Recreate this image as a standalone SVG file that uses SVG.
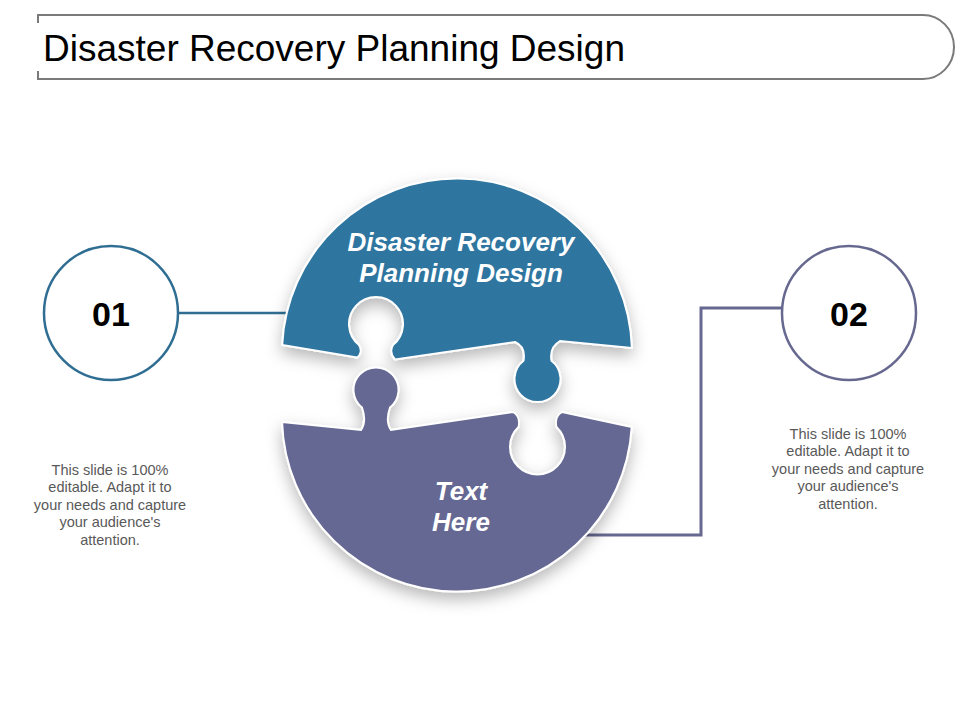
<svg xmlns="http://www.w3.org/2000/svg" width="960" height="720" viewBox="0 0 960 720">
  <defs>
    <filter id="shadow" x="-20%" y="-20%" width="140%" height="150%">
      <feDropShadow dx="0" dy="7" stdDeviation="8" flood-color="#000" flood-opacity="0.28"/>
    </filter>
  </defs>
  <style>
    .frame { fill: none; stroke: #7a7a7a; stroke-width: 2; }
    .title { font-family: "Liberation Sans", Arial, sans-serif; font-size: 37px; fill: #000; }
    .num { font-family: "Liberation Sans", Arial, sans-serif; font-size: 34px; font-weight: bold; fill: #000; text-anchor: middle; }
    .ring1 { fill: #fff; stroke: #2f6e92; stroke-width: 2.5; }
    .ring2 { fill: #fff; stroke: #66688f; stroke-width: 2.5; }
    .piece { stroke: #fff; stroke-width: 2; filter: url(#shadow); }
    .ptext { font-family: "Liberation Sans", Arial, sans-serif; font-size: 26px; font-weight: bold; font-style: italic; fill: #fff; text-anchor: middle; }
    .desc { font-family: "Liberation Sans", Arial, sans-serif; font-size: 14.5px; fill: #595959; text-anchor: middle; }
    .c1 { fill: none; stroke: #2f6e92; stroke-width: 2.5; }
    .c2 { fill: none; stroke: #66688f; stroke-width: 3; }
  </style>

  <rect width="960" height="720" fill="#fff"/>

  <g id="title">
    <path class="frame" d="M38,23 V15 H923 A31,32 0 0 1 923,79 H38 V71"/>
    <text class="title" x="43" y="61">Disaster Recovery Planning Design</text>
  </g>

  <g id="connectors">
    <line class="c1" x1="179" y1="313" x2="300" y2="313"/>
    <polyline class="c2" points="782,308 701,308 701,535 575,535"/>
  </g>

  <g id="piece-top">
    <path class="piece" fill="#2e74a0" d="M282.2,345 A175,175 0 0 1 631.9,348 L560,341 C553,345 550,352 551.5,360.8 A23,23 0 1 1 523.5,360.8 C525,352 522,345 515,342 L395,359.5 C391,355 390,350 393,345 A27,27 0 1 0 359,345 C362,350 361,355 357,357.5 Z"/>
    <text class="ptext" x="461" y="251">Disaster Recovery</text>
    <text class="ptext" x="461" y="282">Planning Design</text>
  </g>

  <g id="piece-bottom">
    <path class="piece" fill="#656892" d="M282.1,422 L361,430 C365,424 365,416 362,407.6 A22.5,22.5 0 1 1 390,407.6 C387,416 387,424 391,430 L513,412 C518,415 520,421 518.5,427 A27.5,27.5 0 1 0 556.5,427 C555,421 557,415 562,412 L631.7,427 A175,175 0 0 1 282.1,422 Z"/>
    <text class="ptext" x="461" y="500">Text</text>
    <text class="ptext" x="461" y="531">Here</text>
  </g>

  <g id="node-01">
    <circle class="ring1" cx="111" cy="313" r="67"/>
    <text class="num" x="111" y="326">01</text>
  </g>

  <g id="node-02">
    <circle class="ring2" cx="849" cy="313" r="67"/>
    <text class="num" x="849" y="326">02</text>
  </g>

  <g id="desc-01">
    <text class="desc" x="110" y="474.5">This slide is 100%</text>
    <text class="desc" x="110" y="492">editable. Adapt it to</text>
    <text class="desc" x="110" y="509.5">your needs and capture</text>
    <text class="desc" x="110" y="527">your audience's</text>
    <text class="desc" x="110" y="544.5">attention.</text>
  </g>

  <g id="desc-02">
    <text class="desc" x="848" y="438.5">This slide is 100%</text>
    <text class="desc" x="848" y="456">editable. Adapt it to</text>
    <text class="desc" x="848" y="473.5">your needs and capture</text>
    <text class="desc" x="848" y="491">your audience's</text>
    <text class="desc" x="848" y="508.5">attention.</text>
  </g>
</svg>
